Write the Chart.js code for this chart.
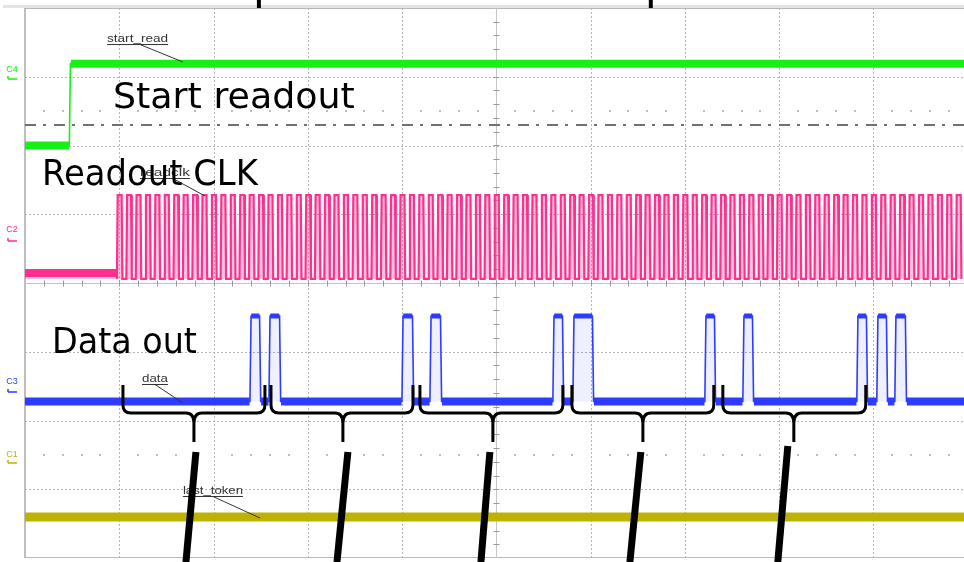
<!DOCTYPE html>
<html>
<head>
<meta charset="utf-8">
<script src="https://cdn.jsdelivr.net/npm/chart.js@4/dist/chart.umd.min.js"></script>
<style>
  html, body { margin: 0; padding: 0; background: #fff; overflow: hidden; }
</style>
</head>
<body>
<canvas id="scope" width="964" height="562"></canvas>
<script>
// x = time in screen divisions (10 div, last one cut off), y = volts in divisions (8 div)
const tEnd = 9.96;

// C4 start_read
const startReadEdge = 0.47;
const startReadLevels = [6.0, 7.19];      // low, high

// C2 readclk
const clkStart = 0.975;
const clkPeriod = 0.1;                    // 10 cycles per division
const clkLevels = [4.06, 5.28];
const clkIdle = 4.145;

// C3 data
const dataRise = [2.386, 2.587, 3.998, 4.295, 5.599, 5.811, 7.211, 7.614, 8.823, 9.035, 9.226];
const dataFall = [2.492, 2.704, 4.114, 4.411, 5.705, 6.023, 7.317, 7.720, 8.929, 9.141, 9.342];
const dataLevels = [2.276, 3.52];

// C1 last_token
const tokenLevel = 0.596;

// trigger level (dash-dot)
const triggerLevel = 6.298;

// annotations
const braceStart = [1.039, 2.609, 4.189, 5.801, 7.402];
const braceEnd   = [2.545, 4.115, 5.705, 7.306, 8.918];
const braceMid   = [1.792, 3.372, 4.963, 6.554, 8.155];
const slashTop    = [1.813, 3.425, 4.931, 6.532, 8.091];
const slashTopV   = [1.542, 1.542, 1.542, 1.542, 1.629];
const slashBottom = [1.707, 3.309, 4.836, 6.416, 7.985];
const topMarks = [2.481, 6.638];

const bigLabels = ['Start readout', 'Readout CLK', 'Data out'];
const bigLabelT = [0.933, 0.18, 0.286];
const bigLabelV = [6.545, 5.425, 2.982];
const bigLabelW = [2.566, 2.29, 1.538];

const tagText = ['start_read', 'readclk', 'data', 'last_token'];
const tagT    = [0.87, 1.22, 1.241, 1.675];
const tagEnd  = [1.518, 1.75, 1.516, 2.312];
const tagV    = [7.505, 5.556, 2.56, 0.931];
const leadT0  = [1.22, 1.57, 1.379, 1.994];
const leadT1  = [1.675, 1.909, 1.675, 2.492];
const leadV1  = [7.215, 5.265, 2.255, 0.582];

const chanNames = ['C4', 'C2', 'C3', 'C1'];
const chanV     = [7.098, 4.785, 2.56, 1.498];
const chanBarV  = [6.967, 4.611, 2.415, 1.382];

const GREEN = '#16f016', PINK = '#ff2f8e', BLUE = '#2d3cff', OLIVE = '#bdb300';
const chanColors = [GREEN, PINK, BLUE, OLIVE];

// ---- build traces ----
const sr = [
  {x: 0, y: startReadLevels[0]}, {x: startReadEdge, y: startReadLevels[0]},
  {x: startReadEdge + 0.012, y: startReadLevels[1]}, {x: tEnd, y: startReadLevels[1]}
];
const srBand = [
  {x: 0, y: startReadLevels[0]}, {x: startReadEdge - 0.004, y: startReadLevels[0]},
  {x: startReadEdge, y: null},
  {x: startReadEdge + 0.016, y: startReadLevels[1]}, {x: tEnd, y: startReadLevels[1]}
];

const clk = [{x: 0, y: clkIdle}, {x: clkStart, y: clkIdle}];
for (let t = clkStart; t < tEnd; t += clkPeriod) {
  clk.push({x: t, y: clkLevels[0]});
  clk.push({x: t + 0.008, y: clkLevels[1]});
  clk.push({x: t + clkPeriod / 2, y: clkLevels[1]});
  clk.push({x: t + clkPeriod / 2 + 0.008, y: clkLevels[0]});
}
const clkBand = [{x: 0, y: clkIdle}, {x: clkStart - 0.003, y: clkIdle}];

const dat = [{x: 0, y: dataLevels[0]}];
const datBase = [{x: 0, y: dataLevels[0]}];
const datTop = [];
for (let i = 0; i < dataRise.length; i++) {
  dat.push({x: dataRise[i], y: dataLevels[0]});
  dat.push({x: dataRise[i] + 0.012, y: dataLevels[1]});
  dat.push({x: dataFall[i] - 0.004, y: dataLevels[1]});
  dat.push({x: dataFall[i] + 0.008, y: dataLevels[0]});
  datBase.push({x: dataRise[i] - 0.004, y: dataLevels[0]});
  datBase.push({x: dataRise[i], y: null});
  datBase.push({x: dataFall[i] + 0.012, y: dataLevels[0]});
  datTop.push({x: dataRise[i] + 0.014, y: dataLevels[1]});
  datTop.push({x: dataFall[i] - 0.006, y: dataLevels[1]});
  datTop.push({x: dataFall[i], y: null});
}
dat.push({x: tEnd, y: dataLevels[0]});
datBase.push({x: tEnd, y: dataLevels[0]});

const tok = [{x: 0, y: tokenLevel}, {x: tEnd, y: tokenLevel}];

function fitText(ctx, text, x, y, w) {
  const m = ctx.measureText(text).width;
  ctx.save();
  ctx.translate(x, y);
  ctx.scale(w / m, 1);
  ctx.fillText(text, 0, 0);
  ctx.restore();
}

const scopePlugin = {
  id: 'scope',
  beforeDatasetsDraw(chart) {
    const {ctx, chartArea: a, scales: {x, y}} = chart;
    ctx.save();
    // frame
    ctx.fillStyle = '#e4e4e4';
    ctx.fillRect(3, 5, a.right - 3, 3);
    ctx.strokeStyle = '#b8b8b8';
    ctx.lineWidth = 1;
    ctx.beginPath();
    ctx.moveTo(a.left, a.top + 0.5); ctx.lineTo(a.right, a.top + 0.5);
    ctx.moveTo(a.left, a.bottom - 0.5); ctx.lineTo(a.right, a.bottom - 0.5);
    ctx.stroke();
    ctx.strokeStyle = '#a8a8a8';
    ctx.lineWidth = 1.5;
    ctx.beginPath(); ctx.moveTo(a.left, a.top); ctx.lineTo(a.left, a.bottom); ctx.stroke();

    // dotted grid
    ctx.strokeStyle = '#b4b4b4';
    ctx.lineWidth = 1;
    ctx.setLineDash([2, 2]);
    ctx.beginPath();
    for (let t = 1; t <= 9; t++) {
      if (t === 5) continue;
      const px = Math.round(x.getPixelForValue(t)) + 0.5;
      ctx.moveTo(px, a.top); ctx.lineTo(px, a.bottom);
    }
    for (let v = 1; v <= 7; v++) {
      if (v === 4) continue;
      const py = Math.round(y.getPixelForValue(v)) + 0.5;
      ctx.moveTo(a.left, py); ctx.lineTo(a.right, py);
    }
    ctx.stroke();
    ctx.setLineDash([]);

    // centre axes with minor ticks
    const cx = Math.round(x.getPixelForValue(5)) + 0.5;
    const cy = Math.round(y.getPixelForValue(4)) + 0.5;
    ctx.strokeStyle = '#c4c4c4';
    ctx.beginPath();
    ctx.moveTo(cx, a.top); ctx.lineTo(cx, a.bottom);
    ctx.moveTo(a.left, cy); ctx.lineTo(a.right, cy);
    ctx.stroke();
    ctx.strokeStyle = '#9a9a9a';
    ctx.beginPath();
    for (let t = 0.2; t < tEnd; t += 0.2) {
      const px = Math.round(x.getPixelForValue(t)) + 0.5;
      ctx.moveTo(px, cy - 3); ctx.lineTo(px, cy + 3);
    }
    for (let v = 0.2; v < 8; v += 0.2) {
      const py = Math.round(y.getPixelForValue(v)) + 0.5;
      ctx.moveTo(cx - 3, py); ctx.lineTo(cx + 3, py);
    }
    ctx.stroke();

    // minor dot rows
    ctx.fillStyle = '#bdbdbd';
    [6.5, 1.5].forEach(v => {
      const py = Math.round(y.getPixelForValue(v));
      for (let t = 0.2; t < tEnd; t += 0.2) {
        if (Math.abs(t - Math.round(t)) < 0.05) continue;
        ctx.fillRect(Math.round(x.getPixelForValue(t)) - 1, py - 1, 2, 2);
      }
    });

    // trigger level dash-dot
    ctx.strokeStyle = '#707070';
    ctx.lineWidth = 2;
    ctx.setLineDash([11, 7, 3, 8]);
    const ty = Math.round(y.getPixelForValue(triggerLevel));
    ctx.beginPath(); ctx.moveTo(a.left, ty); ctx.lineTo(a.right, ty); ctx.stroke();
    ctx.setLineDash([]);
    ctx.restore();
  },
  afterDatasetsDraw(chart) {
    const {ctx, scales: {x, y}} = chart;
    const X = t => x.getPixelForValue(t), Y = v => y.getPixelForValue(v);
    ctx.save();

    // small probe tags
    ctx.font = '10px "Liberation Sans", Arial, sans-serif';
    ctx.fillStyle = '#333';
    ctx.strokeStyle = '#333';
    ctx.lineWidth = 1;
    for (let i = 0; i < tagText.length; i++) {
      const bx = X(tagT[i]), by = Y(tagV[i]);
      fitText(ctx, tagText[i], bx, by, X(tagEnd[i]) - bx);
      ctx.beginPath();
      ctx.moveTo(bx, by + 2.5); ctx.lineTo(X(tagEnd[i]), by + 2.5);
      ctx.moveTo(X(leadT0[i]), by + 2.5); ctx.lineTo(X(leadT1[i]), Y(leadV1[i]));
      ctx.stroke();
    }

    // braces
    ctx.strokeStyle = '#000';
    ctx.lineWidth = 3;
    ctx.lineJoin = 'round';
    const vTop = 2.516, vLine = 2.109, vTip = 1.687;
    for (let i = 0; i < braceStart.length; i++) {
      const x0 = X(braceStart[i]), x1 = X(braceEnd[i]), xm = X(braceMid[i]);
      const yt = Y(vTop), yl = Y(vLine), yb = Y(vTip);
      ctx.beginPath();
      ctx.moveTo(x0, yt);
      ctx.lineTo(x0, yl - 8);
      ctx.quadraticCurveTo(x0, yl, x0 + 8, yl);
      ctx.lineTo(xm - 8, yl);
      ctx.quadraticCurveTo(xm, yl, xm, yl + 10);
      ctx.lineTo(xm, yb);
      ctx.moveTo(xm, yl + 10);
      ctx.quadraticCurveTo(xm, yl, xm + 8, yl);
      ctx.lineTo(x1 - 8, yl);
      ctx.quadraticCurveTo(x1, yl, x1, yl - 8);
      ctx.lineTo(x1, yt);
      ctx.stroke();
    }

    // thick slashes
    ctx.lineWidth = 7;
    ctx.lineCap = 'butt';
    for (let i = 0; i < slashTop.length; i++) {
      ctx.beginPath();
      ctx.moveTo(X(slashTop[i]), Y(slashTopV[i]));
      ctx.lineTo(X(slashBottom[i]), Y(-0.06));
      ctx.stroke();
    }
    ctx.lineWidth = 4;
    topMarks.forEach(t => {
      ctx.beginPath(); ctx.moveTo(X(t), Y(8.12)); ctx.lineTo(X(t), Y(8.0)); ctx.stroke();
    });

    // big labels
    ctx.fillStyle = '#000';
    ctx.font = '35px "DejaVu Sans", sans-serif';
    for (let i = 0; i < bigLabels.length; i++) {
      fitText(ctx, bigLabels[i], X(bigLabelT[i]), Y(bigLabelV[i]), X(bigLabelT[i] + bigLabelW[i]) - X(bigLabelT[i]));
    }

    // channel markers
    ctx.font = '9px "Liberation Sans", Arial, sans-serif';
    ctx.textAlign = 'center';
    ctx.textBaseline = 'middle';
    ctx.lineWidth = 1.5;
    for (let i = 0; i < chanNames.length; i++) {
      ctx.fillStyle = chanColors[i];
      ctx.strokeStyle = chanColors[i];
      const cx = X(-0.138);
      ctx.fillText(chanNames[i], cx, Y(chanV[i]));
      const by = Y(chanBarV[i]);
      ctx.beginPath();
      ctx.moveTo(cx - 4, by); ctx.lineTo(cx + 5, by);
      ctx.moveTo(cx - 4, by); ctx.lineTo(cx - 4, by - 3);
      ctx.stroke();
    }
    ctx.restore();
  }
};

new Chart(document.getElementById('scope'), {
  type: 'line',
  data: {
    datasets: [
      {data: sr, borderColor: GREEN, borderWidth: 1.6},
      {data: srBand, borderColor: GREEN, borderWidth: 8},
      {data: clk, borderColor: PINK, borderWidth: 2.2,
       fill: {value: clkLevels[0]}, backgroundColor: 'rgba(255,47,142,0.28)'},
      {data: clkBand, borderColor: PINK, borderWidth: 8},
      {data: dat, borderColor: BLUE, borderWidth: 1.6,
       fill: {value: dataLevels[0]}, backgroundColor: 'rgba(45,60,255,0.08)'},
      {data: datBase, borderColor: BLUE, borderWidth: 8},
      {data: datTop, borderColor: BLUE, borderWidth: 5},
      {data: tok, borderColor: OLIVE, borderWidth: 9}
    ]
  },
  options: {
    responsive: false,
    animation: false,
    events: [],
    layout: {padding: {left: 25, top: 8, right: 0, bottom: 4}},
    plugins: {legend: {display: false}, tooltip: {enabled: false}, filler: {propagate: false}},
    scales: {
      x: {type: 'linear', min: 0, max: tEnd, display: false},
      y: {type: 'linear', min: 0, max: 8, display: false}
    },
    elements: {
      point: {radius: 0},
      line: {tension: 0, borderCapStyle: 'butt', borderJoinStyle: 'miter', fill: false}
    }
  },
  plugins: [scopePlugin]
});
</script>
</body>
</html>
